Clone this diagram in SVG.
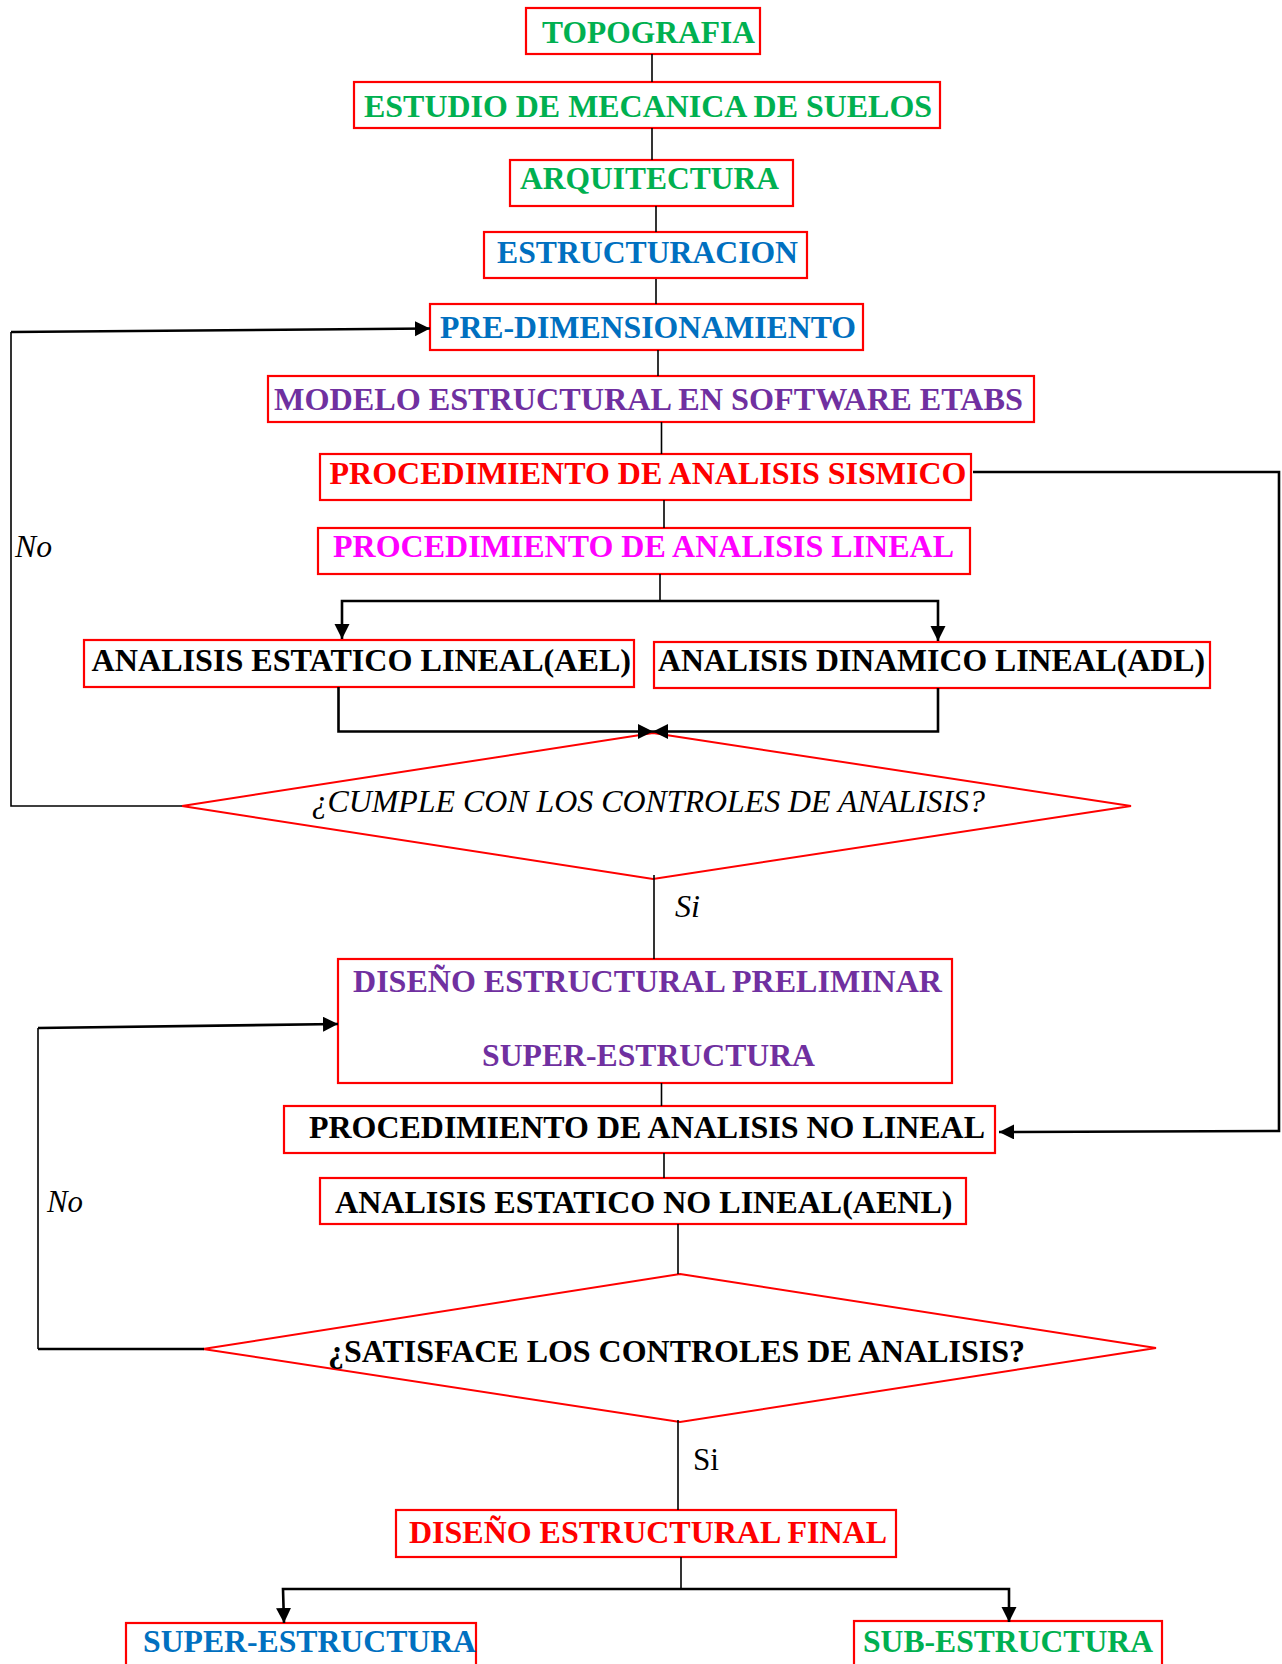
<svg xmlns="http://www.w3.org/2000/svg" width="1282" height="1664" viewBox="0 0 1282 1664">
  <style>
    .box { fill: #ffffff; stroke: #ff0000; stroke-width: 2.2; }
    .dia { fill: #ffffff; stroke: #ff0000; stroke-width: 2; }
    .t { font-family: "Liberation Serif", "Times New Roman", serif; font-size: 31.5px; font-weight: bold; }
    .ti { font-family: "Liberation Serif", "Times New Roman", serif; font-size: 31px; font-style: italic; fill: #000000; }
    .tr { font-family: "Liberation Serif", "Times New Roman", serif; font-size: 31px; fill: #000000; }
    .green { fill: #00b050; }
    .blue { fill: #0070c0; }
    .purple { fill: #7030a0; }
    .red { fill: #ff0000; }
    .magenta { fill: #ff00ff; }
    .black { fill: #000000; }
    .thin { fill: none; stroke: #000000; stroke-width: 1.6; }
    .thick { fill: none; stroke: #000000; stroke-width: 2.6; }
  </style>
  <defs>
    <marker id="arrow" markerUnits="userSpaceOnUse" markerWidth="16" markerHeight="16" refX="15" refY="7.5" orient="auto">
      <path d="M0,0 L15,7.5 L0,15 Z" fill="#000000"/>
    </marker>
  </defs>

  <rect width="1282" height="1664" fill="#ffffff"/>

  <!-- edge labels -->
  <g id="labels">
    <text class="ti" x="15" y="557" textLength="37" lengthAdjust="spacingAndGlyphs">No</text>
    <text class="ti" x="675" y="917" textLength="25" lengthAdjust="spacingAndGlyphs">Si</text>
    <text class="ti" x="47" y="1212" textLength="36" lengthAdjust="spacingAndGlyphs">No</text>
    <text class="tr" x="693" y="1470" textLength="26" lengthAdjust="spacingAndGlyphs">Si</text>
  </g>

  <g id="topografia">
    <rect class="box" x="526" y="8" width="234" height="46"/>
    <text class="t green" x="542" y="43" textLength="213" lengthAdjust="spacingAndGlyphs">TOPOGRAFIA</text>
  </g>
  <g id="mecanica-suelos">
    <rect class="box" x="354" y="82" width="586" height="46"/>
    <text class="t green" x="364" y="116.7" textLength="568" lengthAdjust="spacingAndGlyphs">ESTUDIO DE MECANICA DE SUELOS</text>
  </g>
  <g id="arquitectura">
    <rect class="box" x="510" y="160" width="283" height="46"/>
    <text class="t green" x="520" y="189.3" textLength="259" lengthAdjust="spacingAndGlyphs">ARQUITECTURA</text>
  </g>
  <g id="estructuracion">
    <rect class="box" x="484" y="232" width="323" height="46"/>
    <text class="t blue" x="497" y="263.3" textLength="301" lengthAdjust="spacingAndGlyphs">ESTRUCTURACION</text>
  </g>
  <g id="pre-dimensionamiento">
    <rect class="box" x="430" y="304" width="433" height="46"/>
    <text class="t blue" x="440" y="337.7" textLength="416" lengthAdjust="spacingAndGlyphs">PRE-DIMENSIONAMIENTO</text>
  </g>
  <g id="modelo-etabs">
    <rect class="box" x="268" y="376" width="766" height="46"/>
    <text class="t purple" x="274" y="410" textLength="749" lengthAdjust="spacingAndGlyphs">MODELO ESTRUCTURAL EN SOFTWARE ETABS</text>
  </g>
  <g id="analisis-sismico">
    <rect class="box" x="320" y="454" width="651" height="46"/>
    <text class="t red" x="329.5" y="484" textLength="637" lengthAdjust="spacingAndGlyphs">PROCEDIMIENTO DE ANALISIS SISMICO</text>
  </g>
  <g id="analisis-lineal">
    <rect class="box" x="318" y="528" width="652" height="46"/>
    <text class="t magenta" x="333" y="557.3" textLength="621" lengthAdjust="spacingAndGlyphs">PROCEDIMIENTO DE ANALISIS LINEAL</text>
  </g>
  <g id="ael">
    <rect class="box" x="84" y="640" width="550" height="47"/>
    <text class="t black" x="91.6" y="670.7" textLength="539.4" lengthAdjust="spacingAndGlyphs">ANALISIS ESTATICO LINEAL(AEL)</text>
  </g>
  <g id="adl">
    <rect class="box" x="654" y="642" width="556" height="46"/>
    <text class="t black" x="658" y="670.7" textLength="547" lengthAdjust="spacingAndGlyphs">ANALISIS DINAMICO LINEAL(ADL)</text>
  </g>
  <g id="cumple-controles">
    <polygon class="dia" points="653,733 1131,806 653,879 182,806"/>
    <text class="ti" x="311.5" y="812" textLength="673.5" lengthAdjust="spacingAndGlyphs">¿CUMPLE CON LOS CONTROLES DE ANALISIS?</text>
  </g>
  <g id="diseno-preliminar">
    <rect class="box" x="338" y="959" width="614" height="124"/>
    <text class="t purple" x="353" y="991.7" textLength="589" lengthAdjust="spacingAndGlyphs">DISEÑO ESTRUCTURAL PRELIMINAR</text>
    <text class="t purple" x="482" y="1066" textLength="333" lengthAdjust="spacingAndGlyphs">SUPER-ESTRUCTURA</text>
  </g>
  <g id="analisis-no-lineal">
    <rect class="box" x="284" y="1106" width="711" height="47"/>
    <text class="t black" x="309" y="1138.3" textLength="676" lengthAdjust="spacingAndGlyphs">PROCEDIMIENTO DE ANALISIS NO LINEAL</text>
  </g>
  <g id="aenl">
    <rect class="box" x="320" y="1178" width="646" height="46"/>
    <text class="t black" x="335" y="1212.7" textLength="617.5" lengthAdjust="spacingAndGlyphs">ANALISIS ESTATICO NO LINEAL(AENL)</text>
  </g>
  <g id="satisface-controles">
    <polygon class="dia" points="680,1274 1156,1348 680,1422 203,1349"/>
    <text class="t black" x="328" y="1361.7" textLength="697" lengthAdjust="spacingAndGlyphs">¿SATISFACE LOS CONTROLES DE ANALISIS?</text>
  </g>
  <g id="diseno-final">
    <rect class="box" x="396" y="1510" width="500" height="47"/>
    <text class="t red" x="409" y="1543.3" textLength="478" lengthAdjust="spacingAndGlyphs">DISEÑO ESTRUCTURAL FINAL</text>
  </g>
  <g id="super-estructura">
    <rect class="box" x="126" y="1623" width="350" height="60"/>
    <text class="t blue" x="143" y="1651.7" textLength="333" lengthAdjust="spacingAndGlyphs">SUPER-ESTRUCTURA</text>
  </g>
  <g id="sub-estructura">
    <rect class="box" x="854" y="1621" width="308" height="60"/>
    <text class="t green" x="863" y="1651.7" textLength="290" lengthAdjust="spacingAndGlyphs">SUB-ESTRUCTURA</text>
  </g>

  <!-- connectors (drawn last so arrowheads sit on top of the shapes) -->
  <g id="connectors">
    <line class="thin" x1="652" y1="54" x2="652" y2="82"/>
    <line class="thin" x1="652" y1="128" x2="652" y2="160"/>
    <line class="thin" x1="656" y1="206" x2="656" y2="232"/>
    <line class="thin" x1="656" y1="279" x2="656" y2="304"/>
    <line class="thin" x1="658" y1="350" x2="658" y2="376"/>
    <line class="thin" x1="661.5" y1="422" x2="661.5" y2="454"/>
    <line class="thin" x1="664" y1="500" x2="664" y2="528"/>
    <!-- split to linear analyses -->
    <line class="thin" x1="660" y1="574" x2="660" y2="601"/>
    <polyline class="thick" points="660,601 342,601 342,639" marker-end="url(#arrow)"/>
    <polyline class="thick" points="660,601 938,601 938,641" marker-end="url(#arrow)"/>
    <!-- merge into first check -->
    <polyline class="thick" points="338.5,687 338.5,731.5 653,731.5" marker-end="url(#arrow)"/>
    <polyline class="thick" points="938,688 938,731.5 653,731.5" marker-end="url(#arrow)"/>
    <!-- No loop back to pre-dimensioning -->
    <polyline class="thin" points="182,806 11,806 11,332"/>
    <line class="thick" x1="11" y1="332" x2="430" y2="328.5" marker-end="url(#arrow)"/>
    <!-- Si to preliminary design -->
    <line class="thin" x1="654" y1="875" x2="654" y2="959"/>
    <!-- seismic bypass to nonlinear procedure -->
    <polyline class="thick" points="973,472 1279,472 1279,1131 999,1132" marker-end="url(#arrow)"/>
    <line class="thin" x1="661.5" y1="1083" x2="661.5" y2="1106"/>
    <line class="thin" x1="664" y1="1153" x2="664" y2="1178"/>
    <line class="thin" x1="678" y1="1224" x2="678" y2="1274"/>
    <!-- No loop back to preliminary design -->
    <polyline class="thick" points="204,1349 38,1349"/>
    <polyline class="thin" points="38,1349 38,1028"/>
    <line class="thick" x1="38" y1="1028" x2="338" y2="1024" marker-end="url(#arrow)"/>
    <!-- Si to final design -->
    <line class="thin" x1="678" y1="1420" x2="678" y2="1510"/>
    <line class="thin" x1="681" y1="1557" x2="681" y2="1589"/>
    <polyline class="thick" points="681,1589 283,1589 284,1623" marker-end="url(#arrow)"/>
    <polyline class="thick" points="681,1589 1009,1589 1009,1622" marker-end="url(#arrow)"/>
  </g>
</svg>
